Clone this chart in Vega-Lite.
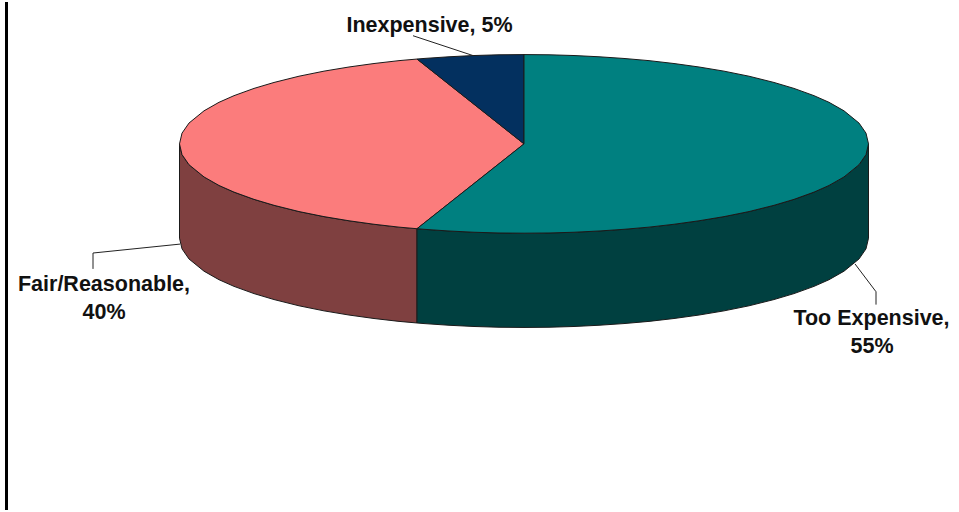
{"$schema":"https://vega.github.io/schema/vega-lite/v6.json","width":959,"height":512,"padding":0,"autosize":{"type":"fit","contains":"padding"},"background":"white","config":{"view":{"stroke":null}},
"datasets":{
"shapes":[
{"p":"Fair side","i":1,"x":179.5,"y":143},{"p":"Fair side","i":2,"x":182,"y":153.8},{"p":"Fair side","i":3,"x":189,"y":164},{"p":"Fair side","i":4,"x":204,"y":176.3},{"p":"Fair side","i":5,"x":219,"y":184.9},{"p":"Fair side","i":6,"x":234,"y":191.6},{"p":"Fair side","i":7,"x":254,"y":198.9},{"p":"Fair side","i":8,"x":274,"y":204.9},{"p":"Fair side","i":9,"x":299,"y":211.2},{"p":"Fair side","i":10,"x":324,"y":216.3},{"p":"Fair side","i":11,"x":349,"y":220.5},{"p":"Fair side","i":12,"x":374,"y":224},{"p":"Fair side","i":13,"x":399,"y":226.9},{"p":"Fair side","i":14,"x":417,"y":228.5},{"p":"Fair side","i":15,"x":417,"y":323.5},{"p":"Fair side","i":16,"x":399,"y":321.9},{"p":"Fair side","i":17,"x":374,"y":319},{"p":"Fair side","i":18,"x":349,"y":315.5},{"p":"Fair side","i":19,"x":324,"y":311.3},{"p":"Fair side","i":20,"x":299,"y":306.2},{"p":"Fair side","i":21,"x":274,"y":299.9},{"p":"Fair side","i":22,"x":254,"y":293.9},{"p":"Fair side","i":23,"x":234,"y":286.6},{"p":"Fair side","i":24,"x":219,"y":279.9},{"p":"Fair side","i":25,"x":204,"y":271.3},{"p":"Fair side","i":26,"x":189,"y":259},{"p":"Fair side","i":27,"x":182,"y":248.8},{"p":"Fair side","i":28,"x":179.5,"y":238},{"p":"Fair side","i":29,"x":179.5,"y":143},
{"p":"Too side","i":1,"x":417,"y":228.5},{"p":"Too side","i":2,"x":424,"y":229.1},{"p":"Too side","i":3,"x":449,"y":230.8},{"p":"Too side","i":4,"x":474,"y":232.05},{"p":"Too side","i":5,"x":499,"y":232.8},{"p":"Too side","i":6,"x":524,"y":233},{"p":"Too side","i":7,"x":549,"y":232.8},{"p":"Too side","i":8,"x":574,"y":232.05},{"p":"Too side","i":9,"x":599,"y":230.8},{"p":"Too side","i":10,"x":624,"y":229.1},{"p":"Too side","i":11,"x":649,"y":226.9},{"p":"Too side","i":12,"x":674,"y":224},{"p":"Too side","i":13,"x":699,"y":220.5},{"p":"Too side","i":14,"x":724,"y":216.3},{"p":"Too side","i":15,"x":749,"y":211.2},{"p":"Too side","i":16,"x":774,"y":204.9},{"p":"Too side","i":17,"x":794,"y":198.9},{"p":"Too side","i":18,"x":814,"y":191.6},{"p":"Too side","i":19,"x":829,"y":184.9},{"p":"Too side","i":20,"x":844,"y":176.3},{"p":"Too side","i":21,"x":859,"y":164},{"p":"Too side","i":22,"x":866,"y":153.8},{"p":"Too side","i":23,"x":868.5,"y":143},{"p":"Too side","i":24,"x":868.5,"y":238},{"p":"Too side","i":25,"x":866,"y":248.8},{"p":"Too side","i":26,"x":859,"y":259},{"p":"Too side","i":27,"x":844,"y":271.3},{"p":"Too side","i":28,"x":829,"y":279.9},{"p":"Too side","i":29,"x":814,"y":286.6},{"p":"Too side","i":30,"x":794,"y":293.9},{"p":"Too side","i":31,"x":774,"y":299.9},{"p":"Too side","i":32,"x":749,"y":306.2},{"p":"Too side","i":33,"x":724,"y":311.3},{"p":"Too side","i":34,"x":699,"y":315.5},{"p":"Too side","i":35,"x":674,"y":319},{"p":"Too side","i":36,"x":649,"y":321.9},{"p":"Too side","i":37,"x":624,"y":324.1},{"p":"Too side","i":38,"x":599,"y":325.8},{"p":"Too side","i":39,"x":574,"y":327.05},{"p":"Too side","i":40,"x":549,"y":327.8},{"p":"Too side","i":41,"x":524,"y":328},{"p":"Too side","i":42,"x":499,"y":327.8},{"p":"Too side","i":43,"x":474,"y":327.05},{"p":"Too side","i":44,"x":449,"y":325.8},{"p":"Too side","i":45,"x":424,"y":324.1},{"p":"Too side","i":46,"x":417,"y":323.5},{"p":"Too side","i":47,"x":417,"y":228.5},
{"p":"Fair top","i":1,"x":524,"y":143},{"p":"Fair top","i":2,"x":417,"y":228.5},{"p":"Fair top","i":3,"x":399,"y":226.9},{"p":"Fair top","i":4,"x":374,"y":224},{"p":"Fair top","i":5,"x":349,"y":220.5},{"p":"Fair top","i":6,"x":324,"y":216.3},{"p":"Fair top","i":7,"x":299,"y":211.2},{"p":"Fair top","i":8,"x":274,"y":204.9},{"p":"Fair top","i":9,"x":254,"y":198.9},{"p":"Fair top","i":10,"x":234,"y":191.6},{"p":"Fair top","i":11,"x":219,"y":184.9},{"p":"Fair top","i":12,"x":204,"y":176.3},{"p":"Fair top","i":13,"x":189,"y":164},{"p":"Fair top","i":14,"x":182,"y":153.8},{"p":"Fair top","i":15,"x":179.5,"y":143},{"p":"Fair top","i":16,"x":182,"y":132.2},{"p":"Fair top","i":17,"x":189,"y":122},{"p":"Fair top","i":18,"x":204,"y":109.7},{"p":"Fair top","i":19,"x":219,"y":101.1},{"p":"Fair top","i":20,"x":234,"y":94.4},{"p":"Fair top","i":21,"x":254,"y":87.1},{"p":"Fair top","i":22,"x":274,"y":81.1},{"p":"Fair top","i":23,"x":299,"y":74.8},{"p":"Fair top","i":24,"x":324,"y":69.7},{"p":"Fair top","i":25,"x":349,"y":65.5},{"p":"Fair top","i":26,"x":374,"y":62},{"p":"Fair top","i":27,"x":399,"y":59.1},{"p":"Fair top","i":28,"x":417,"y":57.5},{"p":"Fair top","i":29,"x":524,"y":143},
{"p":"Inexpensive top","i":1,"x":524,"y":143},{"p":"Inexpensive top","i":2,"x":417,"y":57.5},{"p":"Inexpensive top","i":3,"x":424,"y":56.9},{"p":"Inexpensive top","i":4,"x":449,"y":55.2},{"p":"Inexpensive top","i":5,"x":474,"y":53.95},{"p":"Inexpensive top","i":6,"x":499,"y":53.2},{"p":"Inexpensive top","i":7,"x":524,"y":53},{"p":"Inexpensive top","i":8,"x":524,"y":143},
{"p":"Too top","i":1,"x":524,"y":143},{"p":"Too top","i":2,"x":524,"y":53},{"p":"Too top","i":3,"x":549,"y":53.2},{"p":"Too top","i":4,"x":574,"y":53.95},{"p":"Too top","i":5,"x":599,"y":55.2},{"p":"Too top","i":6,"x":624,"y":56.9},{"p":"Too top","i":7,"x":649,"y":59.1},{"p":"Too top","i":8,"x":674,"y":62},{"p":"Too top","i":9,"x":699,"y":65.5},{"p":"Too top","i":10,"x":724,"y":69.7},{"p":"Too top","i":11,"x":749,"y":74.8},{"p":"Too top","i":12,"x":774,"y":81.1},{"p":"Too top","i":13,"x":794,"y":87.1},{"p":"Too top","i":14,"x":814,"y":94.4},{"p":"Too top","i":15,"x":829,"y":101.1},{"p":"Too top","i":16,"x":844,"y":109.7},{"p":"Too top","i":17,"x":859,"y":122},{"p":"Too top","i":18,"x":866,"y":132.2},{"p":"Too top","i":19,"x":868.5,"y":143},{"p":"Too top","i":20,"x":866,"y":153.8},{"p":"Too top","i":21,"x":859,"y":164},{"p":"Too top","i":22,"x":844,"y":176.3},{"p":"Too top","i":23,"x":829,"y":184.9},{"p":"Too top","i":24,"x":814,"y":191.6},{"p":"Too top","i":25,"x":794,"y":198.9},{"p":"Too top","i":26,"x":774,"y":204.9},{"p":"Too top","i":27,"x":749,"y":211.2},{"p":"Too top","i":28,"x":724,"y":216.3},{"p":"Too top","i":29,"x":699,"y":220.5},{"p":"Too top","i":30,"x":674,"y":224},{"p":"Too top","i":31,"x":649,"y":226.9},{"p":"Too top","i":32,"x":624,"y":229.1},{"p":"Too top","i":33,"x":599,"y":230.8},{"p":"Too top","i":34,"x":574,"y":232.05},{"p":"Too top","i":35,"x":549,"y":232.8},{"p":"Too top","i":36,"x":524,"y":233},{"p":"Too top","i":37,"x":499,"y":232.8},{"p":"Too top","i":38,"x":474,"y":232.05},{"p":"Too top","i":39,"x":449,"y":230.8},{"p":"Too top","i":40,"x":424,"y":229.1},{"p":"Too top","i":41,"x":417,"y":228.5},{"p":"Too top","i":42,"x":524,"y":143}
],
"leaders":[
{"s":"Inexpensive","i":1,"x":413,"y":34},{"s":"Inexpensive","i":2,"x":473,"y":54},
{"s":"Fair","i":1,"x":180,"y":244},{"s":"Fair","i":2,"x":93,"y":253},{"s":"Fair","i":3,"x":93,"y":269},
{"s":"Too","i":1,"x":855,"y":264},{"s":"Too","i":2,"x":876,"y":292},{"s":"Too","i":3,"x":876,"y":305}
],
"labels":[
{"t":"Inexpensive, 5%","x":429.5,"y":30},
{"t":"Fair/Reasonable,","x":104,"y":291},{"t":"40%","x":104,"y":319},
{"t":"Too Expensive,","x":871.5,"y":326},{"t":"55%","x":872,"y":354}
],
"frame":[{"edge":6.5}]
},
"layer":[
{"data":{"name":"shapes"},"mark":{"type":"line","stroke":"#1a1a1a","strokeWidth":1,"strokeJoin":"round"},
"encoding":{"x":{"field":"x","type":"quantitative","scale":{"domain":[0,959]},"axis":null},"y":{"field":"y","type":"quantitative","scale":{"domain":[512,0]},"axis":null},"order":{"field":"i","type":"quantitative"},"detail":{"field":"p"},
"fill":{"field":"p","type":"nominal","legend":null,"scale":{"domain":["Fair side","Too side","Fair top","Inexpensive top","Too top"],"range":["#7f4040","#004040","#fb7c7c","#03305f","#008080"]}}}},
{"data":{"name":"leaders"},"mark":{"type":"line","stroke":"#222","strokeWidth":1},
"encoding":{"x":{"field":"x","type":"quantitative","scale":{"domain":[0,959]},"axis":null},"y":{"field":"y","type":"quantitative","scale":{"domain":[512,0]},"axis":null},"order":{"field":"i","type":"quantitative"},"detail":{"field":"s"}}},
{"data":{"name":"labels"},"mark":{"type":"text","font":"Liberation Sans","fontWeight":"bold","fontSize":21.5,"align":"center","baseline":"alphabetic","fill":"#111"},
"encoding":{"x":{"field":"x","type":"quantitative","scale":{"domain":[0,959]},"axis":null},"y":{"field":"y","type":"quantitative","scale":{"domain":[512,0]},"axis":null},"text":{"field":"t"}}},
{"data":{"name":"frame"},"mark":{"type":"rule","stroke":"#000","strokeWidth":3},
"encoding":{"x":{"field":"edge","type":"quantitative","scale":{"domain":[0,959]},"axis":null}}}
]}
